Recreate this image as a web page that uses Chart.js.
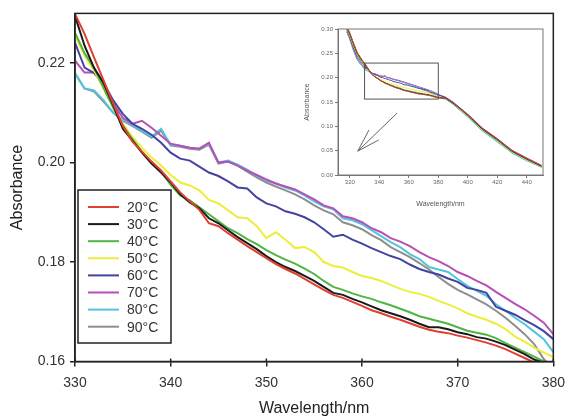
<!DOCTYPE html>
<html>
<head>
<meta charset="utf-8">
<script src="https://cdn.jsdelivr.net/npm/chart.js@4.4.0/dist/chart.umd.min.js"></script>
<style>
  html, body { margin: 0; padding: 0; background: #fff; }
  #wrap { position: relative; width: 573px; height: 417px; }
  #main { position: absolute; left: 0; top: 0; }
  #inset { position: absolute; left: 293px; top: 22px; }
</style>
</head>
<body>
<div id="wrap">
  <canvas id="main" width="573" height="417"></canvas>
  <canvas id="inset" width="262" height="193"></canvas>
</div>
<script>
// wavelength (nm), one reading per nm
const wavelengths = [
  330, 331, 332, 333, 334, 335, 336, 337, 338, 339,
  340, 341, 342, 343, 344, 345, 346, 347, 348, 349,
  350, 351, 352, 353, 354, 355, 356, 357, 358, 359,
  360, 361, 362, 363, 364, 365, 366, 367, 368, 369,
  370, 371, 372, 373, 374, 375, 376, 377, 378, 379, 380,
];

const temps = ['20°C', '30°C', '40°C', '50°C', '60°C', '70°C', '80°C', '90°C'];

const abs20 = [
  0.2299, 0.2259, 0.2211, 0.2165, 0.2118, 0.2074, 0.2042, 0.2022, 0.2002, 0.1984,
  0.1962, 0.1940, 0.1922, 0.1905, 0.1878, 0.1872, 0.1858, 0.1845, 0.1832, 0.1820,
  0.1808, 0.1796, 0.1786, 0.1777, 0.1766, 0.1755, 0.1744, 0.1734, 0.1728, 0.1720,
  0.1712, 0.1703, 0.1697, 0.1690, 0.1684, 0.1677, 0.1670, 0.1664, 0.1660, 0.1657,
  0.1652, 0.1648, 0.1643, 0.1638, 0.1632, 0.1625, 0.1616, 0.1607, 0.1598, 0.1592, 0.1588,
];
const abs30 = [
  0.2295, 0.2235, 0.2190, 0.2160, 0.2115, 0.2068, 0.2044, 0.2020, 0.1998, 0.1980,
  0.1960, 0.1936, 0.1920, 0.1908, 0.1888, 0.1878, 0.1864, 0.1850, 0.1838, 0.1826,
  0.1812, 0.1800, 0.1790, 0.1782, 0.1772, 0.1762, 0.1750, 0.1738, 0.1734, 0.1726,
  0.1719, 0.1711, 0.1703, 0.1697, 0.1691, 0.1684, 0.1676, 0.1669, 0.1669, 0.1665,
  0.1659, 0.1655, 0.1649, 0.1646, 0.1640, 0.1633, 0.1624, 0.1615, 0.1604, 0.1597, 0.1592,
];
const abs40 = [
  0.2261, 0.2220, 0.2190, 0.2150, 0.2110, 0.2075, 0.2047, 0.2022, 0.2000, 0.1982,
  0.1955, 0.1934, 0.1924, 0.1910, 0.1896, 0.1882, 0.1868, 0.1858, 0.1846, 0.1836,
  0.1824, 0.1814, 0.1805, 0.1797, 0.1787, 0.1776, 0.1762, 0.1750, 0.1744, 0.1737,
  0.1731, 0.1726, 0.1719, 0.1713, 0.1706, 0.1699, 0.1691, 0.1686, 0.1681, 0.1676,
  0.1669, 0.1662, 0.1658, 0.1654, 0.1647, 0.1637, 0.1628, 0.1619, 0.1610, 0.1600, 0.1594,
];
const abs50 = [
  0.2255, 0.2215, 0.2185, 0.2148, 0.2110, 0.2078, 0.2052, 0.2030, 0.2010, 0.1994,
  0.1975, 0.1960, 0.1954, 0.1944, 0.1925, 0.1918, 0.1904, 0.1890, 0.1888, 0.1872,
  0.1848, 0.1860, 0.1845, 0.1828, 0.1830, 0.1820, 0.1800, 0.1792, 0.1789, 0.1780,
  0.1772, 0.1768, 0.1762, 0.1754, 0.1746, 0.1740, 0.1736, 0.1730, 0.1722, 0.1715,
  0.1707, 0.1697, 0.1690, 0.1684, 0.1676, 0.1665, 0.1650, 0.1640, 0.1628, 0.1618, 0.1609,
];
const abs60 = [
  0.2241, 0.2191, 0.2180, 0.2160, 0.2125, 0.2098, 0.2078, 0.2068, 0.2056, 0.2040,
  0.2020, 0.2008, 0.2004, 0.1992, 0.1980, 0.1973, 0.1962, 0.1950, 0.1948, 0.1930,
  0.1918, 0.1912, 0.1902, 0.1897, 0.1890, 0.1880, 0.1866, 0.1851, 0.1855, 0.1845,
  0.1837, 0.1828, 0.1820, 0.1812, 0.1806, 0.1795, 0.1786, 0.1780, 0.1775, 0.1767,
  0.1760, 0.1748, 0.1744, 0.1738, 0.1710, 0.1702, 0.1694, 0.1683, 0.1673, 0.1661, 0.1645,
];
const abs70 = [
  0.2205, 0.2181, 0.2181, 0.2155, 0.2118, 0.2090, 0.2078, 0.2084, 0.2070, 0.2054,
  0.2038, 0.2034, 0.2030, 0.2028, 0.2040, 0.2000, 0.2002, 0.1994, 0.1984, 0.1975,
  0.1966, 0.1958, 0.1952, 0.1946, 0.1936, 0.1926, 0.1914, 0.1908, 0.1892, 0.1888,
  0.1880, 0.1868, 0.1860, 0.1848, 0.1841, 0.1832, 0.1820, 0.1810, 0.1802, 0.1792,
  0.1780, 0.1772, 0.1762, 0.1753, 0.1740, 0.1728, 0.1716, 0.1705, 0.1692, 0.1678, 0.1655,
];
const abs80 = [
  0.2179, 0.2149, 0.2145, 0.2125, 0.2100, 0.2086, 0.2076, 0.2064, 0.2052, 0.2068,
  0.2036, 0.2034, 0.2030, 0.2028, 0.2038, 0.2000, 0.2004, 0.1996, 0.1986, 0.1974,
  0.1964, 0.1958, 0.1950, 0.1944, 0.1934, 0.1922, 0.1912, 0.1906, 0.1888, 0.1884,
  0.1876, 0.1864, 0.1852, 0.1840, 0.1830, 0.1816, 0.1806, 0.1790, 0.1785, 0.1780,
  0.1766, 0.1752, 0.1742, 0.1732, 0.1715, 0.1702, 0.1688, 0.1675, 0.1660, 0.1645, 0.1619,
];
const abs90 = [
  0.2180, 0.2149, 0.2143, 0.2122, 0.2100, 0.2084, 0.2074, 0.2062, 0.2050, 0.2064,
  0.2034, 0.2032, 0.2028, 0.2026, 0.2036, 0.1998, 0.2002, 0.1994, 0.1982, 0.1970,
  0.1960, 0.1952, 0.1944, 0.1936, 0.1926, 0.1914, 0.1904, 0.1896, 0.1880, 0.1874,
  0.1866, 0.1854, 0.1844, 0.1830, 0.1820, 0.1810, 0.1798, 0.1785, 0.1770, 0.1756,
  0.1744, 0.1735, 0.1725, 0.1715, 0.1702, 0.1688, 0.1672, 0.1655, 0.1635, 0.1605, 0.1585,
];
const absorbance = [abs20, abs30, abs40, abs50, abs60, abs70, abs80, abs90];

// inset: full spectrum, extra points before 330 nm and after 380 nm
const insetHeadX = [318, 320, 322, 325, 328];
const insetHead = [
  [0.305, 0.292, 0.275, 0.252, 0.238],
  [0.304, 0.291, 0.274, 0.251, 0.237],
  [0.300, 0.287, 0.270, 0.248, 0.234],
  [0.300, 0.286, 0.269, 0.247, 0.234],
  [0.298, 0.284, 0.266, 0.244, 0.232],
  [0.296, 0.281, 0.263, 0.240, 0.228],
  [0.294, 0.279, 0.260, 0.237, 0.225],
  [0.294, 0.279, 0.260, 0.237, 0.225],
];
const insetTailX = [385, 390, 395, 400, 410, 420, 430, 440, 450];
const insetTail = [
  [0.158, 0.149, 0.136, 0.124, 0.095, 0.074, 0.050, 0.034, 0.019],
  [0.158, 0.148, 0.136, 0.123, 0.094, 0.073, 0.049, 0.033, 0.018],
  [0.157, 0.147, 0.135, 0.122, 0.093, 0.071, 0.048, 0.032, 0.018],
  [0.157, 0.147, 0.134, 0.121, 0.092, 0.070, 0.047, 0.031, 0.017],
  [0.159, 0.149, 0.137, 0.124, 0.096, 0.074, 0.050, 0.034, 0.019],
  [0.160, 0.150, 0.137, 0.125, 0.096, 0.075, 0.051, 0.035, 0.020],
  [0.156, 0.145, 0.132, 0.119, 0.090, 0.068, 0.045, 0.029, 0.016],
  [0.156, 0.146, 0.133, 0.120, 0.091, 0.069, 0.046, 0.030, 0.016],
];

const xTicks = [330, 340, 350, 360, 370, 380];
const yTicks = [0.16, 0.18, 0.20, 0.22];
const insetXTicks = [320, 340, 360, 380, 400, 420, 440];
const insetYTicks = [0, 0.05, 0.10, 0.15, 0.20, 0.25, 0.30];

// zoom box and arrow in the inset (data units)
const zoomBox = { x0: 330, x1: 380, y0: 0.156, y1: 0.23 };
const arrow = { from: [352, 0.127], to: [325.4, 0.049], barbs: [[333, 0.0925], [339.6, 0.072]] };

const colors = ['#e0402f', '#1a1a1a', '#4fb544', '#eded3c', '#4343a2', '#b64fb6', '#52c4dc', '#8e8e8e'];
const fontFamily = 'Arial, "Liberation Sans", sans-serif';
const axisColor = '#222';

Chart.defaults.font.family = fontFamily;

const mainDecor = {
  id: 'mainDecor',
  afterDraw(chart) {
    const { ctx, chartArea: a, scales: { x } } = chart;
    ctx.save();
    ctx.strokeStyle = axisColor;
    ctx.lineWidth = 1.5;
    ctx.strokeRect(a.left, a.top, a.right - a.left, a.bottom - a.top);

    // x ticks also poke a little into the plot
    ctx.beginPath();
    xTicks.forEach(v => {
      const px = x.getPixelForValue(v);
      ctx.moveTo(px, a.bottom);
      ctx.lineTo(px, a.bottom - 3);
    });
    ctx.stroke();

    // legend box
    const lg = { x: 78, y: 190, w: 93, h: 153, first: 17, row: 17.1 };
    ctx.fillStyle = '#fff';
    ctx.fillRect(lg.x, lg.y, lg.w, lg.h);
    ctx.strokeRect(lg.x, lg.y, lg.w, lg.h);
    ctx.font = '14px ' + fontFamily;
    ctx.textBaseline = 'middle';
    temps.forEach((t, i) => {
      const y = lg.y + lg.first + i * lg.row;
      ctx.strokeStyle = colors[i];
      ctx.lineWidth = 2;
      ctx.beginPath();
      ctx.moveTo(lg.x + 10, y);
      ctx.lineTo(lg.x + 41, y);
      ctx.stroke();
      ctx.fillStyle = '#333';
      ctx.fillText(t, lg.x + 49, y + 1);
    });
    ctx.restore();
  },
};

const insetDecor = {
  id: 'insetDecor',
  afterDraw(chart) {
    const { ctx, chartArea: a, scales: { x, y } } = chart;
    ctx.save();
    ctx.strokeStyle = '#777';
    ctx.lineWidth = 1;
    ctx.strokeRect(a.left, a.top, a.right - a.left, a.bottom - a.top);

    ctx.strokeStyle = '#555';
    const bx0 = x.getPixelForValue(zoomBox.x0), bx1 = x.getPixelForValue(zoomBox.x1);
    const by0 = y.getPixelForValue(zoomBox.y0), by1 = y.getPixelForValue(zoomBox.y1);
    ctx.strokeRect(bx0, by1, bx1 - bx0, by0 - by1);

    ctx.strokeStyle = '#666';
    const tip = [x.getPixelForValue(arrow.to[0]), y.getPixelForValue(arrow.to[1])];
    ctx.beginPath();
    ctx.moveTo(x.getPixelForValue(arrow.from[0]), y.getPixelForValue(arrow.from[1]));
    ctx.lineTo(tip[0], tip[1]);
    arrow.barbs.forEach(b => {
      ctx.moveTo(tip[0], tip[1]);
      ctx.lineTo(x.getPixelForValue(b[0]), y.getPixelForValue(b[1]));
    });
    ctx.stroke();
    ctx.restore();
  },
};

new Chart(document.getElementById('main'), {
  type: 'line',
  data: {
    datasets: temps.map((t, i) => ({
      label: t,
      data: wavelengths.map((w, j) => ({ x: w, y: absorbance[i][j] })),
      borderColor: colors[i],
      borderWidth: 2,
      pointRadius: 0,
      tension: 0,
    })),
  },
  options: {
    responsive: false,
    devicePixelRatio: 1,
    animation: false,
    layout: { padding: { top: 13, right: 12, left: 0, bottom: 0 } },
    plugins: { legend: { display: false }, tooltip: { enabled: false } },
    scales: {
      x: {
        type: 'linear',
        min: 330,
        max: 380,
        afterBuildTicks: s => { s.ticks = xTicks.map(v => ({ value: v })); },
        afterFit: s => { s.height = 55.5; },
        grid: { drawOnChartArea: false, tickLength: 5, color: axisColor, lineWidth: 1.5 },
        border: { color: axisColor, width: 1.5 },
        ticks: { color: '#333', font: { size: 14 }, padding: 8, maxRotation: 0, callback: v => String(v) },
        title: { display: true, text: 'Wavelength/nm', color: '#222', font: { size: 16 }, padding: { top: 0, bottom: -1 } },
      },
      y: {
        min: 0.16,
        max: 0.23,
        afterBuildTicks: s => { s.ticks = yTicks.map(v => ({ value: v })); },
        afterFit: s => { s.width = 75; },
        grid: { drawOnChartArea: false, tickLength: 5, color: axisColor, lineWidth: 1.5 },
        border: { color: axisColor, width: 1.5 },
        ticks: { color: '#333', font: { size: 14 }, padding: 5, callback: v => v.toFixed(2) },
        title: { display: true, text: 'Absorbance', color: '#222', font: { size: 16 }, padding: { top: 8, bottom: 0 } },
      },
    },
  },
  plugins: [mainDecor],
});

new Chart(document.getElementById('inset'), {
  type: 'line',
  data: {
    datasets: temps.map((t, i) => ({
      label: t,
      data: [
        ...insetHeadX.map((w, j) => ({ x: w, y: insetHead[i][j] })),
        ...wavelengths.map((w, j) => ({ x: w, y: absorbance[i][j] })),
        ...insetTailX.map((w, j) => ({ x: w, y: insetTail[i][j] })),
      ],
      borderColor: colors[i],
      borderWidth: 1,
      pointRadius: 0,
      tension: 0,
    })),
  },
  options: {
    responsive: false,
    devicePixelRatio: 1,
    animation: false,
    layout: { padding: { top: 7, right: 12, left: 0, bottom: 0 } },
    plugins: { legend: { display: false }, tooltip: { enabled: false } },
    scales: {
      x: {
        type: 'linear',
        min: 312,
        max: 451,
        afterBuildTicks: s => { s.ticks = insetXTicks.map(v => ({ value: v })); },
        afterFit: s => { s.height = 40; },
        grid: { drawOnChartArea: false, tickLength: 3, color: '#777' },
        border: { color: '#777', width: 1 },
        ticks: { color: '#666', font: { size: 6 }, padding: 1, maxRotation: 0, callback: v => String(v) },
        title: { display: true, text: 'Wavelength/nm', color: '#555', font: { size: 7 }, padding: { top: 0, bottom: 7 } },
      },
      y: {
        min: 0,
        max: 0.30,
        afterBuildTicks: s => { s.ticks = insetYTicks.map(v => ({ value: v })); },
        afterFit: s => { s.width = 45; },
        grid: { drawOnChartArea: false, tickLength: 3, color: '#777' },
        border: { color: '#777', width: 1 },
        ticks: { color: '#666', font: { size: 6 }, padding: 2, callback: v => v.toFixed(2) },
        title: { display: true, text: 'Absorbance', color: '#555', font: { size: 7 }, padding: { top: 10, bottom: 0 } },
      },
    },
  },
  plugins: [insetDecor],
});
</script>
</body>
</html>
